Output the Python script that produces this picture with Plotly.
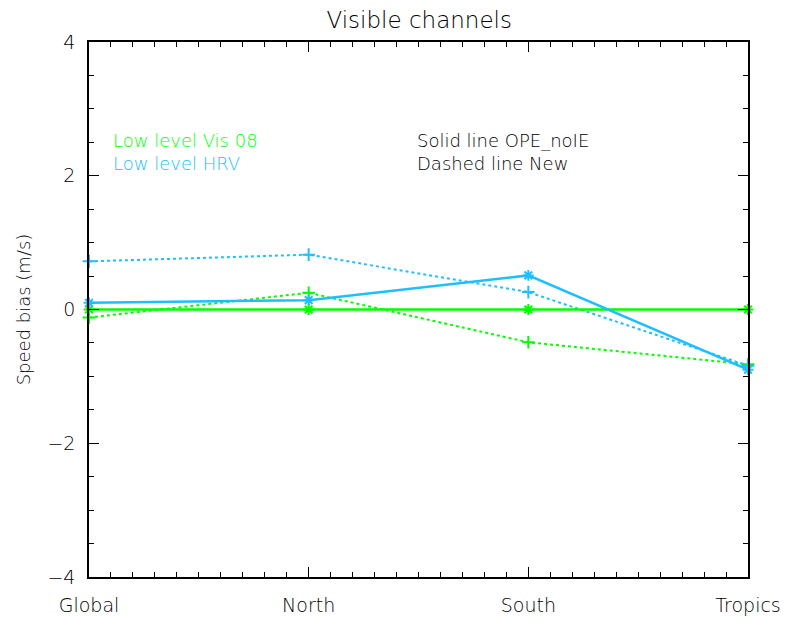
import plotly.graph_objects as go

# Regions along the x axis
regions = ["Global", "North", "South", "Tropics"]
x_pos = [0, 1, 2, 3]

# Speed bias (m/s) per region
vis08_ope = [0.0, 0.0, 0.0, 0.0]
vis08_new = [-0.12, 0.25, -0.49, -0.82]
hrv_ope = [0.10, 0.14, 0.51, -0.90]
hrv_new = [0.72, 0.82, 0.26, -0.84]

y_ticks = [-4, -2, 0, 2, 4]

GREEN = "#00ff00"
BLUE = "#1ebeff"
FONT = "DejaVu Sans, Liberation Sans, sans-serif"
WEIGHT = 200

fig = go.Figure()

def add_series(y, color, dash, symbol, width):
    fig.add_trace(go.Scatter(
        x=x_pos, y=y, mode="lines+markers",
        line=dict(color=color, width=width, dash=dash),
        marker=dict(symbol=symbol, size=9, color=color,
                    line=dict(color=color, width=2)),
        showlegend=False, cliponaxis=False,
    ))

add_series(vis08_new, GREEN, "dot", "cross-thin-open", 2)
add_series(hrv_new, BLUE, "dot", "cross-thin-open", 2)
add_series(vis08_ope, GREEN, "solid", "asterisk-open", 2.5)
add_series(hrv_ope, BLUE, "solid", "asterisk-open", 2.5)

axis_common = dict(
    showgrid=False, zeroline=False, showline=True, linecolor="black",
    linewidth=1.5, mirror="ticks", ticks="inside", tickcolor="black",
    tickwidth=1, automargin=False,
    tickfont=dict(family=FONT, size=19, color="black", weight=WEIGHT),
)

# minor tick positions: tenths along x, halves along y
x_minor = [i / 10 for i in range(0, 31) if i % 10]
y_minor = [v / 2 for v in range(-8, 9) if v % 4]

fig.update_xaxes(
    range=[0, 3], tickvals=x_pos, ticktext=regions, ticklen=10,
    ticklabelstandoff=10,
    minor=dict(tickmode="array", tickvals=x_minor, ticks="inside", ticklen=5,
               tickcolor="black", tickwidth=1),
    **axis_common,
)
fig.update_yaxes(
    range=[-4, 4], tickvals=y_ticks,
    ticktext=[str(v).replace("-", "\u2212") for v in y_ticks],
    ticklen=10, ticklabelstandoff=8,
    minor=dict(tickmode="array", tickvals=y_minor, ticks="inside", ticklen=5,
               tickcolor="black", tickwidth=1),
    title=dict(text="Speed bias (m/s)",
               font=dict(family=FONT, size=18, color="black", weight=WEIGHT),
               standoff=12),
    **axis_common,
)

# two-line key blocks: channel colours on the left, line-style key on the right
channel_key = (f"<span style='color:{GREEN}'>Low level Vis 08</span><br>"
               f"<span style='color:{BLUE}'>Low level HRV</span>")
style_key = "Solid line OPE_noIE<br>Dashed line New"

for x, text in [(0.034, channel_key), (0.495, style_key)]:
    fig.add_annotation(
        x=x, y=0.794, xref="paper", yref="paper", text=text, showarrow=False,
        xanchor="left", yanchor="middle", align="left",
        font=dict(family=FONT, size=18, color="black", weight=WEIGHT),
    )

fig.update_layout(
    width=791, height=618,
    margin=dict(l=89, r=43, t=42, b=41),
    paper_bgcolor="white", plot_bgcolor="white",
    title=dict(text="Visible channels", x=0.53, xanchor="center",
               y=1 - 20 / 618, yanchor="middle", automargin=False,
               font=dict(family=FONT, size=23, color="black", weight=WEIGHT)),
)

fig.write_html("out.html")
